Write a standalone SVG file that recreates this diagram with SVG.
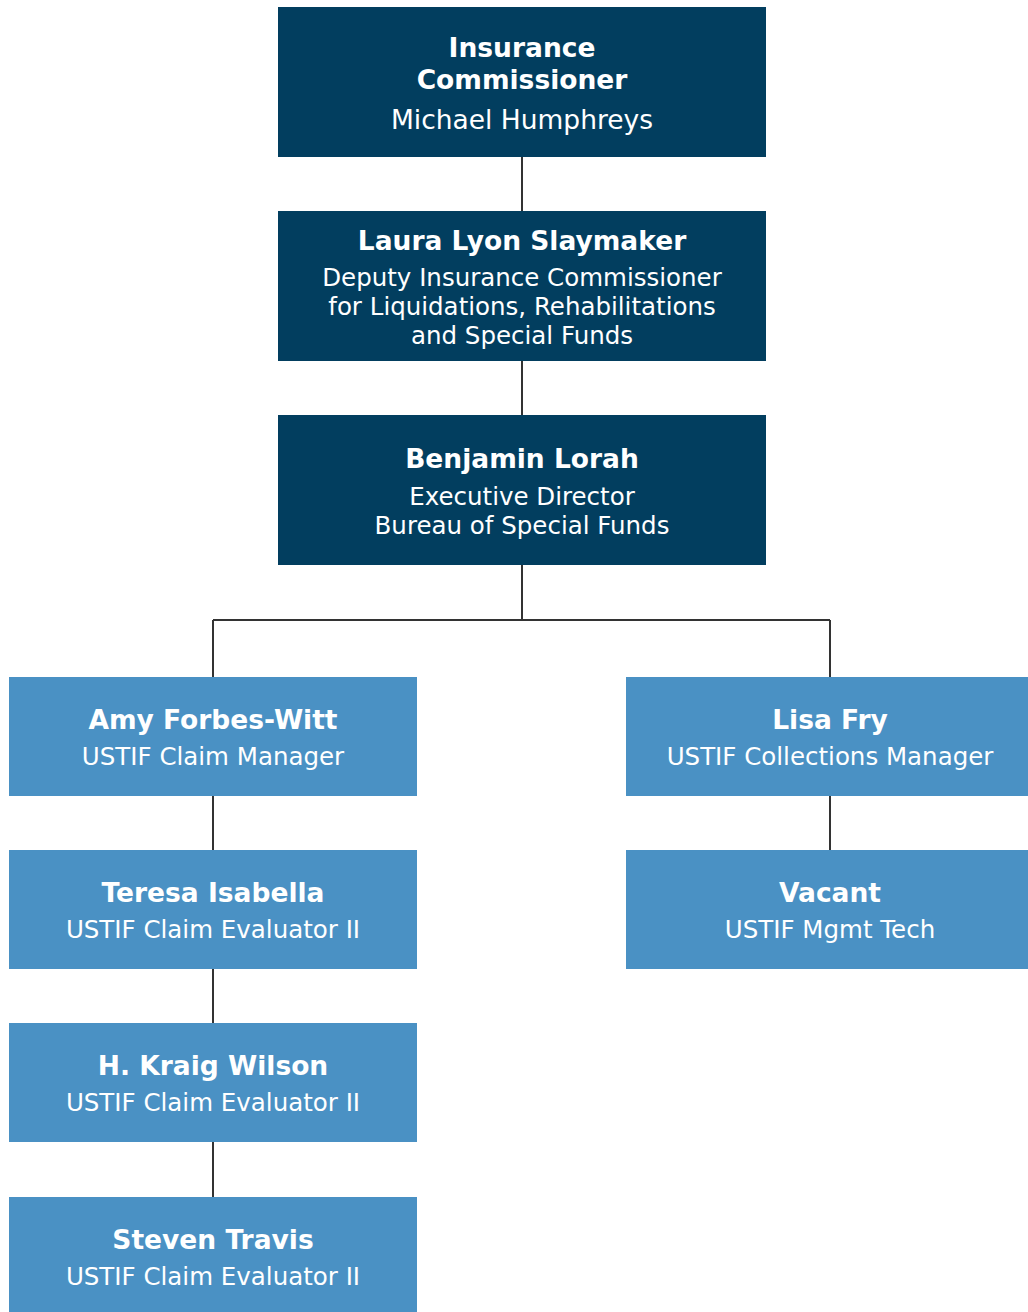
<svg xmlns="http://www.w3.org/2000/svg" width="1028" height="1312" viewBox="0 0 1028 1312">
<style>
.dk{fill:#023e5f}
.lt{fill:#4a91c4}
text{font-family:"DejaVu Sans",Verdana,sans-serif;fill:#fff;text-anchor:middle}
.t{font-weight:bold;font-size:26.5px}
.s{font-size:24.5px}
.c{stroke:#333;stroke-width:2;fill:none}
</style>
<rect width="1028" height="1312" fill="#fff"/>
<g id="connectors">
<path class="c" d="M522 157V211M522 361V415M522 565V620M213 620H830M213 620V677M830 620V677M213 796V850M213 969V1023M213 1142V1197M830 796V850"/>
</g>
<g id="n1"><rect class="dk" x="278" y="7" width="488" height="150"/>
<text class="t" x="522" y="57">Insurance</text><text class="t" x="522" y="89">Commissioner</text><text class="s" x="522" y="129" style="font-size:26.5px">Michael Humphreys</text></g>
<g id="n2"><rect class="dk" x="278" y="211" width="488" height="150"/>
<text class="t" x="522" y="250">Laura Lyon Slaymaker</text><text class="s" x="522" y="286">Deputy Insurance Commissioner</text><text class="s" x="522" y="315">for Liquidations, Rehabilitations</text><text class="s" x="522" y="344">and Special Funds</text></g>
<g id="n3"><rect class="dk" x="278" y="415" width="488" height="150"/>
<text class="t" x="522" y="468">Benjamin Lorah</text><text class="s" x="522" y="505">Executive Director</text><text class="s" x="522" y="534">Bureau of Special Funds</text></g>
<g id="n4"><rect class="lt" x="9" y="677" width="408" height="119"/>
<text class="t" x="213" y="729">Amy Forbes-Witt</text><text class="s" x="213" y="765">USTIF Claim Manager</text></g>
<g id="n5"><rect class="lt" x="626" y="677" width="402" height="119"/>
<text class="t" x="830" y="729">Lisa Fry</text><text class="s" x="830" y="765">USTIF Collections Manager</text></g>
<g id="n6"><rect class="lt" x="9" y="850" width="408" height="119"/>
<text class="t" x="213" y="902">Teresa Isabella</text><text class="s" x="213" y="938">USTIF Claim Evaluator II</text></g>
<g id="n7"><rect class="lt" x="626" y="850" width="402" height="119"/>
<text class="t" x="830" y="902">Vacant</text><text class="s" x="830" y="938">USTIF Mgmt Tech</text></g>
<g id="n8"><rect class="lt" x="9" y="1023" width="408" height="119"/>
<text class="t" x="213" y="1075">H. Kraig Wilson</text><text class="s" x="213" y="1111">USTIF Claim Evaluator II</text></g>
<g id="n9"><rect class="lt" x="9" y="1197" width="408" height="115"/>
<text class="t" x="213" y="1249">Steven Travis</text><text class="s" x="213" y="1285">USTIF Claim Evaluator II</text></g>
</svg>
